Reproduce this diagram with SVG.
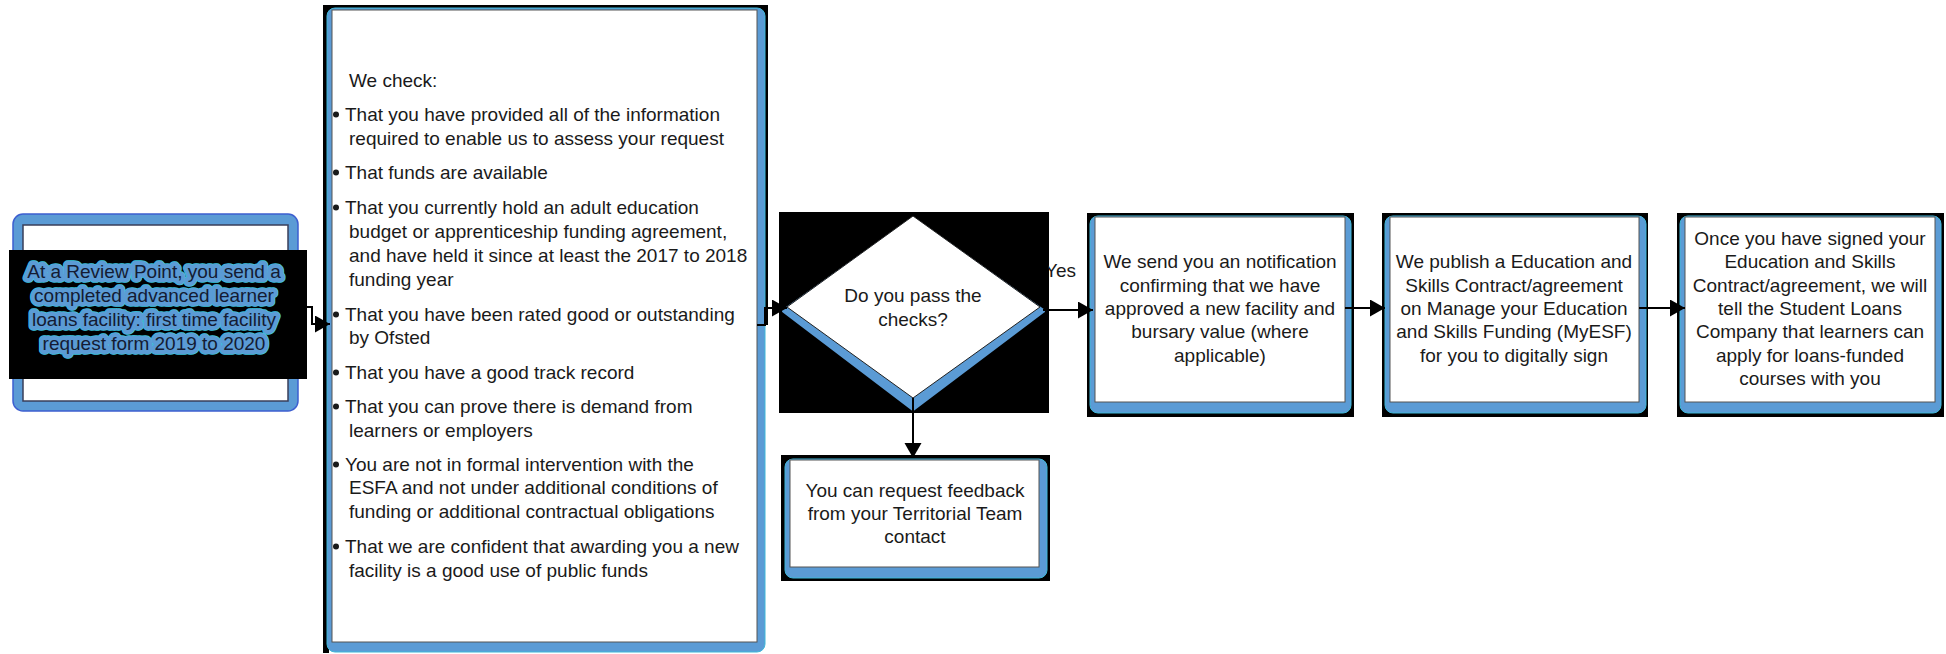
<svg xmlns="http://www.w3.org/2000/svg" width="1946" height="654" viewBox="0 0 1946 654">
<style>
.blk{fill:#000}
.blue{fill:#5b9bd5;stroke:#3fb8d8;stroke-width:1}
.wht{fill:#fff;stroke:#555;stroke-width:1}
.t{font-family:"Liberation Sans",Arial,sans-serif;font-size:19px;fill:#1a1a1a}
.c{text-anchor:middle}
.bul{fill:#1a1a1a}
.halo{font-family:"Liberation Sans",Arial,sans-serif;font-size:19px;text-anchor:middle;fill:#141b33;stroke:#5b9bd5;stroke-width:8;stroke-linejoin:round;paint-order:stroke}
.halo2{font-family:"Liberation Sans",Arial,sans-serif;font-size:19px;text-anchor:middle;fill:none;stroke:#3fc8e0;stroke-width:9.5;stroke-linejoin:round}
.ln{fill:none;stroke:#000;stroke-width:2}
</style>
<defs>
<marker id="ah" markerUnits="userSpaceOnUse" markerWidth="16" markerHeight="18" refX="15" refY="8.5" orient="auto">
<path d="M0,0 L15,8.5 L0,17 z" fill="#000"/>
</marker>
<clipPath id="yesclip"><rect x="1048" y="250" width="60" height="40"/></clipPath>
</defs>
<rect width="1946" height="654" fill="#fff"/>

<g id="node-request">
<rect x="13" y="214" width="285" height="197" rx="10" fill="#5b9bd5" stroke="#3d5fd0" stroke-width="1.5"/>
<rect x="23" y="225" width="265" height="176" fill="#fff" stroke="#3a3f5a" stroke-width="1.5"/>
<rect x="9" y="250" width="298" height="129" class="blk"/>
<text class="halo2"><tspan x="154" y="278">At a Review Point, you send a</tspan><tspan x="154" y="302">completed advanced learner</tspan><tspan x="154" y="326">loans facility: first time facility</tspan><tspan x="154" y="350">request form 2019 to 2020</tspan></text>
<text class="halo"><tspan x="154" y="278">At a Review Point, you send a</tspan><tspan x="154" y="302">completed advanced learner</tspan><tspan x="154" y="326">loans facility: first time facility</tspan><tspan x="154" y="350">request form 2019 to 2020</tspan></text>
</g>

<g id="node-checks">
<rect x="323" y="5" width="445" height="320" class="blk"/>
<rect x="323" y="5" width="6" height="648" class="blk"/>
<rect x="327" y="8" width="438" height="644" rx="8" class="blue"/>
<rect x="332" y="10" width="425" height="632" class="wht"/>
<text class="t" x="349" y="87">We check:</text>
<g class="bul">
<circle cx="336" cy="114.5" r="3"/>
<circle cx="336" cy="172.5" r="3"/>
<circle cx="336" cy="207.5" r="3"/>
<circle cx="336" cy="314.5" r="3"/>
<circle cx="336" cy="372.5" r="3"/>
<circle cx="336" cy="406.5" r="3"/>
<circle cx="336" cy="464.5" r="3"/>
<circle cx="336" cy="546.5" r="3"/>
</g>
<text class="t"><tspan x="345" y="121">That you have provided all of the information</tspan><tspan x="349" y="145">required to enable us to assess your request</tspan></text>
<text class="t" x="345" y="179">That funds are available</text>
<text class="t"><tspan x="345" y="214">That you currently hold an adult education</tspan><tspan x="349" y="238">budget or apprenticeship funding agreement,</tspan><tspan x="349" y="262">and have held it since at least the 2017 to 2018</tspan><tspan x="349" y="286">funding year</tspan></text>
<text class="t"><tspan x="345" y="321">That you have been rated good or outstanding</tspan><tspan x="349" y="344">by Ofsted</tspan></text>
<text class="t" x="345" y="379">That you have a good track record</text>
<text class="t"><tspan x="345" y="413">That you can prove there is demand from</tspan><tspan x="349" y="437">learners or employers</tspan></text>
<text class="t"><tspan x="345" y="471">You are not in formal intervention with the</tspan><tspan x="349" y="494">ESFA and not under additional conditions of</tspan><tspan x="349" y="518">funding or additional contractual obligations</tspan></text>
<text class="t"><tspan x="345" y="553">That we are confident that awarding you a new</tspan><tspan x="349" y="577">facility is a good use of public funds</tspan></text>
</g>

<g id="node-decision">
<rect x="779" y="212" width="270" height="201" class="blk"/>
<polygon points="913,219 1043,311 913,409 784,311" fill="#5b9bd5" stroke="#5b9bd5" stroke-width="4" stroke-linejoin="round"/>
<polygon points="913,216 1040,307 913,398 787,307" fill="#fff" stroke="#222" stroke-width="1"/>
<text class="t c"><tspan x="913" y="302">Do you pass the</tspan><tspan x="913" y="326">checks?</tspan></text>
</g>

<g id="node-feedback">
<rect x="781" y="455" width="269" height="126" class="blk"/>
<rect x="785" y="459" width="262" height="119" rx="8" class="blue"/>
<rect x="790" y="460" width="249" height="107" class="wht"/>
<text class="t c"><tspan x="915" y="497">You can request feedback</tspan><tspan x="915" y="520">from your Territorial Team</tspan><tspan x="915" y="543">contact</tspan></text>
</g>

<g id="node-notification">
<rect x="1087" y="213" width="267" height="204" class="blk"/>
<rect x="1090" y="216" width="261" height="197" rx="8" class="blue"/>
<rect x="1095" y="217" width="250" height="185" class="wht"/>
<text class="t c"><tspan x="1220" y="268">We send you an notification</tspan><tspan x="1220" y="292">confirming that we have</tspan><tspan x="1220" y="315">approved a new facility and</tspan><tspan x="1220" y="338">bursary value (where</tspan><tspan x="1220" y="362">applicable)</tspan></text>
</g>

<g id="node-publish">
<rect x="1382" y="213" width="266" height="204" class="blk"/>
<rect x="1385" y="216" width="261" height="197" rx="8" class="blue"/>
<rect x="1390" y="217" width="249" height="185" class="wht"/>
<text class="t c"><tspan x="1514" y="268">We publish a Education and</tspan><tspan x="1514" y="292">Skills Contract/agreement</tspan><tspan x="1514" y="315">on Manage your Education</tspan><tspan x="1514" y="338">and Skills Funding (MyESF)</tspan><tspan x="1514" y="362">for you to digitally sign</tspan></text>
</g>

<g id="node-slc">
<rect x="1677" y="213" width="267" height="204" class="blk"/>
<rect x="1680" y="216" width="261" height="197" rx="8" class="blue"/>
<rect x="1685" y="217" width="250" height="185" class="wht"/>
<text class="t c"><tspan x="1810" y="245">Once you have signed your</tspan><tspan x="1810" y="268">Education and Skills</tspan><tspan x="1810" y="292">Contract/agreement, we will</tspan><tspan x="1810" y="315">tell the Student Loans</tspan><tspan x="1810" y="338">Company that learners can</tspan><tspan x="1810" y="362">apply for loans-funded</tspan><tspan x="1810" y="385">courses with you</tspan></text>
</g>

<g id="connectors">
<path class="ln" d="M307,307 H312 V324 H330" marker-end="url(#ah)"/>
<path class="ln" d="M757,325 H765 V308 H787" marker-end="url(#ah)"/>
<path class="ln" d="M1043,310 H1093" marker-end="url(#ah)"/>
<path class="ln" d="M913,398 V458" marker-end="url(#ah)"/>
<path class="ln" d="M1345,308 H1385" marker-end="url(#ah)"/>
<path class="ln" d="M1639,308 H1685" marker-end="url(#ah)"/>
<text class="t" x="1045" y="277" clip-path="url(#yesclip)">Yes</text>
</g>
</svg>
